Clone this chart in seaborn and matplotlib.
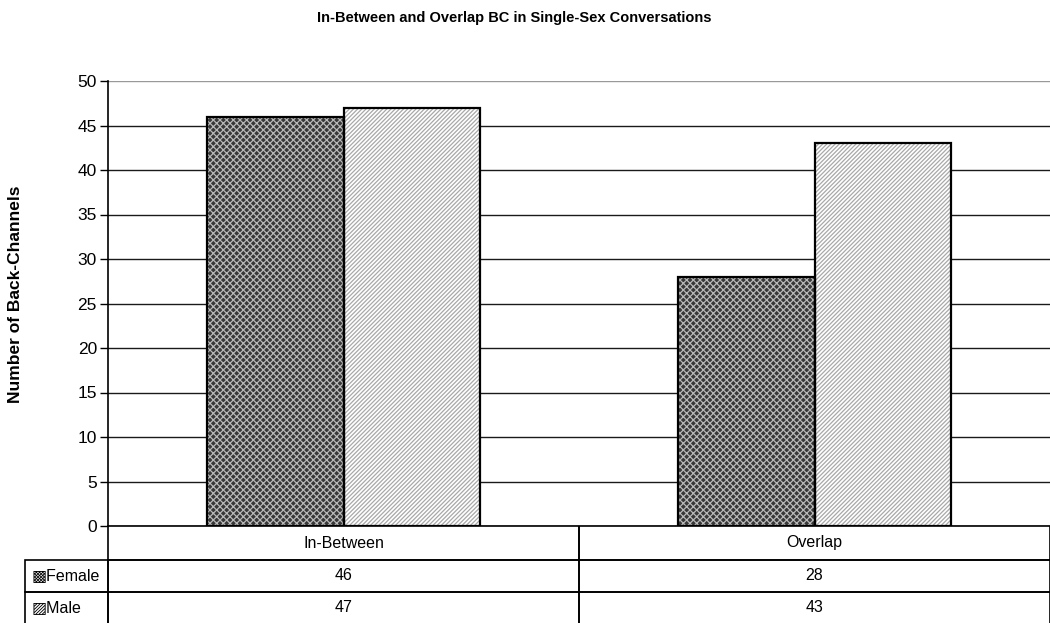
import matplotlib
matplotlib.use("Agg")
import matplotlib.pyplot as plt
import seaborn as sns
import pandas as pd
from matplotlib.table import Table

categories = ["In-Between", "Overlap"]
female = [46, 28]
male = [47, 43]
series_names = ["Female", "Male"]
yticks = [0, 5, 10, 15, 20, 25, 30, 35, 40, 45, 50]
title = "In-Between and Overlap BC in Single-Sex Conversations"
ylabel = "Number of Back-Channels"

sns.set_theme(style="white")
plt.rcParams["font.family"] = ["Liberation Sans", "DejaVu Sans"]
plt.rcParams["text.color"] = "black"
plt.rcParams["ytick.color"] = "black"
plt.rcParams["ytick.labelcolor"] = "black"
plt.rcParams["hatch.linewidth"] = 0.9
NARROW = ["Liberation Sans Narrow", "Liberation Sans", "DejaVu Sans"]

df = pd.DataFrame({
    "category": categories * 2,
    "value": female + male,
    "sex": [series_names[0]] * len(categories) + [series_names[1]] * len(categories),
})

W, H = 1050, 623
fig = plt.figure(figsize=(W / 100, H / 100), dpi=100)
ax = fig.add_axes([108 / W, 1 - 526 / H, 1 - 108 / W, (526 - 81) / H])

# filled, hatched bars (edge colour = hatch colour)
sns.barplot(data=df, x="category", y="value", hue="sex", order=categories,
            hue_order=series_names, width=0.58, palette=["#383838", "#ffffff"],
            saturation=1, legend=False, ax=ax, linewidth=0, zorder=2)
hatches = {0: ("xxxxx", "#b8b8b8"), 1: ("////////", "#a8a8a8")}
for i, p in enumerate(ax.patches):
    h, c = hatches[i // len(categories)]
    p.set_hatch(h)
    p.set_edgecolor(c)
    p.set_linewidth(0)
# outlines
sns.barplot(data=df, x="category", y="value", hue="sex", order=categories,
            hue_order=series_names, width=0.58, palette=["black", "black"],
            fill=False, legend=False, ax=ax, linewidth=1.6, zorder=3)

ax.set_xlim(-0.5, 1.5)
ax.set_ylim(0, 50)
ax.set_yticks(yticks)
ax.set_yticklabels([str(t) for t in yticks], fontsize=12.5, color="black")
ax.set_xticks([])
ax.set_xlabel("")
ax.set_ylabel("")
ax.tick_params(axis="y", direction="out", length=6, width=1, color="black", pad=2, left=True)
ax.yaxis.grid(True, color="#1a1a1a", linewidth=1)
ax.set_axisbelow(True)
for s in ["top", "right"]:
    ax.spines[s].set_visible(False)
for s in ["left", "bottom"]:
    ax.spines[s].set_color("black")
    ax.spines[s].set_linewidth(1.2)
gl = ax.get_ygridlines()
gl[-1].set_color("#999999")

# data table below the axes
axw = W - 108
axh = 526 - 81
lab_w = 83
tbl_h = 98
tbl = Table(ax, bbox=[-lab_w / axw, -tbl_h / axh, 1 + lab_w / axw, tbl_h / axh])
row_h = [34, 32, 32]
col_w = [lab_w, axw / 2, axw / 2]
keys = ["\u25a9", "\u25a8"]
c = tbl.add_cell(0, 0, col_w[0], row_h[0], text="", facecolor="none")
c.visible_edges = ""
for j, cat in enumerate(categories):
    cell = tbl.add_cell(0, j + 1, col_w[j + 1], row_h[0], text=cat, loc="center",
                        facecolor="none", edgecolor="black")
    cell.visible_edges = "BLR"
for i, (name, vals) in enumerate(zip(series_names, [female, male])):
    last = i == len(series_names) - 1
    cell = tbl.add_cell(i + 1, 0, col_w[0], row_h[i + 1], text=f"{keys[i]}{name}",
                        loc="left", facecolor="none", edgecolor="black")
    if last:
        cell.visible_edges = "TLR"
    for j, v in enumerate(vals):
        cell = tbl.add_cell(i + 1, j + 1, col_w[j + 1], row_h[i + 1], text=str(v),
                            loc="center", facecolor="none", edgecolor="black")
        if last:
            cell.visible_edges = "TLR"
tbl.auto_set_font_size(False)
tbl.set_fontsize(11.5)
for (r, cidx), cell in tbl.get_celld().items():
    cell.set_linewidth(1.2)
    cell.get_text().set_fontfamily(NARROW)
    cell.get_text().set_color("black")
    if cidx == 0:
        cell.PAD = 0.08
ax.add_table(tbl)

fig.text(514 / W, 1 - 18 / H, title, ha="center", va="center", fontsize=10.5,
         fontweight="bold", family=NARROW, color="black")
fig.text(16 / W, 1 - 294 / H, ylabel, ha="center", va="center", rotation=90,
         fontsize=12.5, fontweight="bold", color="black")

fig.savefig("out.png", dpi=100)
